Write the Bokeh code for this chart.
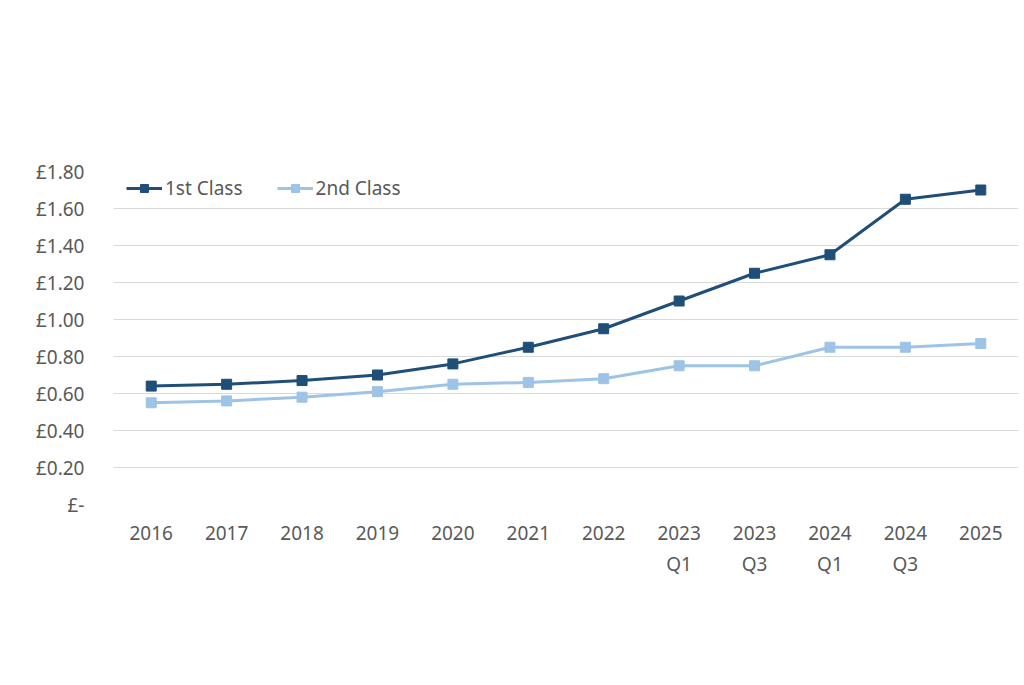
from bokeh.plotting import figure
from bokeh.models import FixedTicker, Legend, LegendItem, ColumnDataSource
from bokeh.embed import file_html
from bokeh.resources import INLINE

categories = ["2016", "2017", "2018", "2019", "2020", "2021", "2022",
              "2023\nQ1", "2023\nQ3", "2024\nQ1", "2024\nQ3", "2025"]
first_class = [0.64, 0.65, 0.67, 0.70, 0.76, 0.85, 0.95, 1.10, 1.25, 1.35, 1.65, 1.70]
second_class = [0.55, 0.56, 0.58, 0.61, 0.65, 0.66, 0.68, 0.75, 0.75, 0.85, 0.85, 0.87]
y_ticks = [0.0, 0.2, 0.4, 0.6, 0.8, 1.0, 1.2, 1.4, 1.6, 1.8]
y_tick_labels = ["£-", "£0.20", "£0.40", "£0.60", "£0.80", "£1.00", "£1.20", "£1.40", "£1.60", "£1.80"]

FONT = "Noto Sans"
TXT = "#595959"
DARK = "#1F4E79"
LIGHT = "#9DC3E6"

src = ColumnDataSource(dict(x=categories, a=first_class, b=second_class))

p = figure(x_range=categories, y_range=(0, 1.8), width=1020, height=680,
           output_backend="svg", toolbar_location=None,
           min_border_left=113, min_border_right=2, min_border_top=171, min_border_bottom=176)
p.outline_line_color = None
p.background_fill_color = "white"
p.border_fill_color = "white"

l1 = p.line("x", "a", source=src, line_color=DARK, line_width=3)
m1 = p.scatter("x", "a", source=src, marker="square", size=10, fill_color=DARK, line_color=DARK)
l2 = p.line("x", "b", source=src, line_color=LIGHT, line_width=3)
m2 = p.scatter("x", "b", source=src, marker="square", size=10, fill_color=LIGHT, line_color=LIGHT)

p.yaxis.ticker = FixedTicker(ticks=y_ticks)
p.yaxis.major_label_overrides = {t: s for t, s in zip(y_ticks, y_tick_labels)}

for ax in (p.xaxis, p.yaxis):
    ax.axis_line_color = None
    ax.major_tick_line_color = None
    ax.minor_tick_line_color = None
    ax.major_label_text_font = FONT
    ax.major_label_text_font_size = "19px"
    ax.major_label_text_color = TXT
p.yaxis.major_label_standoff = 23
p.xaxis.major_label_standoff = 9

p.xgrid.grid_line_color = None
p.ygrid.grid_line_color = "#D9D9D9"
p.ygrid.grid_line_width = 1

legend = Legend(items=[LegendItem(label="1st Class", renderers=[l1, m1]),
                       LegendItem(label="2nd Class", renderers=[l2, m2])],
                orientation="horizontal", location=(13, 303),
                label_text_font=FONT, label_text_font_size="19px", label_text_color=TXT,
                glyph_width=36, label_standoff=3, spacing=34,
                border_line_color=None, background_fill_alpha=0,
                margin=0, padding=4)
p.add_layout(legend, "center")

open("out.html", "w").write(file_html(p, INLINE))
